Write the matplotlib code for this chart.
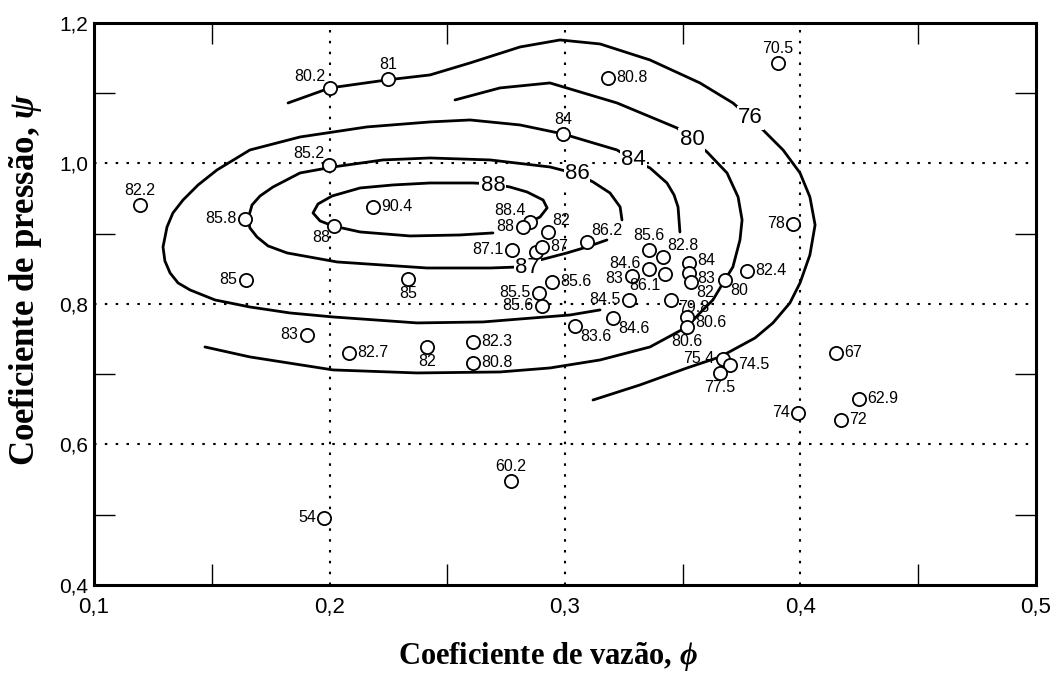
import matplotlib
matplotlib.use('Agg')
import matplotlib.pyplot as plt
from matplotlib.ticker import FuncFormatter, FixedLocator

# measured points: flow coefficient, pressure coefficient, efficiency label
phi = [0.2002, 0.2248, 0.3183, 0.3904, 0.2992, 0.1998, 0.1195, 0.1641,
       0.2019, 0.2185, 0.2851, 0.2822, 0.2928, 0.3093, 0.2775, 0.2877,
       0.2902, 0.3357, 0.3416, 0.3357, 0.3425, 0.3284, 0.3527, 0.3527,
       0.3535, 0.3679, 0.3773, 0.3968, 0.3272, 0.3450, 0.2890, 0.2902,
       0.2945, 0.3204, 0.3042, 0.3518, 0.3518, 0.3671, 0.3701, 0.3658,
       0.3989, 0.2333, 0.1645, 0.1904, 0.2083, 0.2414, 0.2609, 0.2609,
       0.1977, 0.2771, 0.4151, 0.4248, 0.4172]
psi = [1.1075, 1.1203, 1.1217, 1.1431, 1.0420, 0.9979, 0.9409, 0.9210,
       0.9110, 0.9381, 0.9167, 0.9096, 0.9025, 0.8883, 0.8769, 0.8740,
       0.8811, 0.8769, 0.8669, 0.8498, 0.8427, 0.8399, 0.8584, 0.8441,
       0.8313, 0.8342, 0.8470, 0.9139, 0.8057, 0.8057, 0.8157, 0.7972,
       0.8313, 0.7801, 0.7687, 0.7815, 0.7673, 0.7217, 0.7132, 0.7018,
       0.6448, 0.8356, 0.8342, 0.7559, 0.7302, 0.7388, 0.7459, 0.7160,
       0.4954, 0.5480, 0.7302, 0.6648, 0.6349]
eff = ['80.2', '81', '80.8', '70.5', '84', '85.2', '82.2', '85.8',
       '88', '90.4', '88.4', '88', '82', '86.2', '87.1', '',
       '87', '85.6', '82.8', '84.6', '86.1', '83', '84', '83',
       '82', '80', '82.4', '78', '84.5', '79.8', '85.5', '85.6',
       '85.6', '84.6', '83.6', '80.6', '80.6', '75.4', '74.5', '77.5',
       '74', '85', '85', '83', '82.7', '82', '82.3', '80.8',
       '54', '60.2', '67', '62.9', '72']
# where each label sits around its circle
where = ['ul', 'a', 'r', 'a', 'a', 'ul', 'a', 'l',
         'bl', 'r', 'ul', 'l', 'ur', 'ur', 'l', 'r',
         'r', 'a', 'ur', 'lu', 'bl', 'ld', 'ru', 'rd',
         'br', 'br', 'r', 'l', 'l', 'brh', 'l', 'l',
         'r', 'br', 'br', 'rd', 'b', 'l', 'r', 'b',
         'l', 'b', 'l', 'l', 'r', 'b', 'r', 'r',
         'l', 'a', 'r', 'r', 'r']

# efficiency contours (phi, psi) traced by hand
c88_phi = [0.2694, 0.2554, 0.2342, 0.2130, 0.2015, 0.1960, 0.1930, 0.1951, 0.2011, 0.2130,
           0.2270, 0.2427, 0.2609, 0.2694, 0.2766, 0.2839, 0.2907, 0.2924, 0.2894, 0.2851]
c88_psi = [0.9011, 0.8982, 0.8968, 0.9025, 0.9110, 0.9182, 0.9295, 0.9423, 0.9537, 0.9651,
           0.9694, 0.9722, 0.9722, 0.9708, 0.9665, 0.9594, 0.9480, 0.9367, 0.9238, 0.9167]
c86_phi = [0.3178, 0.3093, 0.3008, 0.2894, 0.2809, 0.2682, 0.2414, 0.2032, 0.1820, 0.1739,
           0.1692, 0.1662, 0.1654, 0.1671, 0.1705, 0.1760, 0.1875, 0.2015, 0.2227, 0.2427,
           0.2682, 0.2936, 0.3051, 0.3119, 0.3191, 0.3234, 0.3242]
c86_psi = [0.8911, 0.8811, 0.8726, 0.8626, 0.8527, 0.8512, 0.8512, 0.8598, 0.8726, 0.8826,
           0.8954, 0.9082, 0.9210, 0.9409, 0.9537, 0.9665, 0.9865, 0.9950, 1.0050, 1.0078,
           1.0050, 0.9950, 0.9851, 0.9737, 0.9580, 0.9381, 0.9196]
c84_phi = [0.3488, 0.3480, 0.3463, 0.3433, 0.3361, 0.3289, 0.3221, 0.3106, 0.2992, 0.2809,
           0.2597, 0.2427, 0.2159, 0.1875, 0.1662, 0.1522, 0.1442, 0.1378, 0.1335, 0.1310,
           0.1293, 0.1301, 0.1323, 0.1357, 0.1408, 0.1514, 0.1662, 0.1832, 0.2015, 0.2372,
           0.2652, 0.3021, 0.3149]
c84_psi = [0.9025, 0.9381, 0.9552, 0.9722, 0.9936, 1.0050, 1.0192, 1.0306, 1.0420, 1.0548,
           1.0619, 1.0591, 1.0520, 1.0377, 1.0192, 0.9907, 0.9694, 0.9480, 0.9295, 0.9096,
           0.8811, 0.8612, 0.8441, 0.8299, 0.8199, 0.8057, 0.7957, 0.7872, 0.7815, 0.7730,
           0.7744, 0.7843, 0.7915]
c80_phi = [0.2533, 0.2724, 0.2936, 0.3221, 0.3476, 0.3539, 0.3603, 0.3688, 0.3735, 0.3752,
           0.3743, 0.3713, 0.3679, 0.3628, 0.3573, 0.3518, 0.3361, 0.3149, 0.2936, 0.2724,
           0.2372, 0.2015, 0.1662, 0.1471]
c80_psi = [1.0904, 1.1075, 1.1146, 1.0861, 1.0505, 1.0335, 1.0164, 0.9865, 0.9523, 0.9196,
           0.8911, 0.8527, 0.8342, 0.8057, 0.7872, 0.7673, 0.7388, 0.7203, 0.7089, 0.7032,
           0.7018, 0.7061, 0.7246, 0.7388]
c76_phi = [0.1824, 0.2002, 0.2244, 0.2427, 0.2597, 0.2809, 0.2979, 0.3149, 0.3361, 0.3573,
           0.3713, 0.3786, 0.3841, 0.3926, 0.3998, 0.4040, 0.4062, 0.4040, 0.3998, 0.3955,
           0.3883, 0.3807, 0.3713, 0.3658, 0.3518, 0.3318, 0.3119]
c76_psi = [1.0861, 1.1075, 1.1189, 1.1260, 1.1431, 1.1658, 1.1758, 1.1701, 1.1473, 1.1146,
           1.0861, 1.0648, 1.0477, 1.0192, 0.9865, 0.9523, 0.9125, 0.8698, 0.8299, 0.8014,
           0.7730, 0.7516, 0.7345, 0.7246, 0.7089, 0.6847, 0.6633]

contour_text = ['88', '86', '87', '84', '80', '76']
contour_at_phi = [0.2694, 0.3051, 0.2839, 0.3289, 0.3539, 0.3786]
contour_at_psi = [0.9690, 0.9851, 0.8512, 1.0050, 1.0335, 1.0648]

x_ticks = [0.1, 0.2, 0.3, 0.4, 0.5]
y_ticks = [0.4, 0.6, 0.8, 1.0, 1.2]
x_minor = [0.15, 0.25, 0.35, 0.45]
y_minor = [0.5, 0.7, 0.9, 1.1]

plt.rcParams['mathtext.fontset'] = 'custom'
plt.rcParams['mathtext.it'] = 'Liberation Serif:italic:bold'
plt.rcParams['mathtext.rm'] = 'Liberation Serif:bold'

fig = plt.figure(figsize=(10.54, 6.73), dpi=100)
ax = fig.add_axes([0.0892, 0.1308, 0.8937, 0.8351])
ax.set_xlim(0.1, 0.5)
ax.set_ylim(0.4, 1.2)

# dotted grid at the major values
for v in x_ticks[1:-1]:
    ax.axvline(v, color='black', lw=1.5, linestyle=(0, (1.2, 4)), zorder=1)
for v in y_ticks[1:-1]:
    ax.axhline(v, color='black', lw=1.5, linestyle=(0, (1.2, 4)), zorder=1)

for cx, cy in [(c88_phi, c88_psi), (c86_phi, c86_psi), (c84_phi, c84_psi),
               (c80_phi, c80_psi), (c76_phi, c76_psi)]:
    ax.plot(cx, cy, color='black', lw=2.0, solid_capstyle='round',
            solid_joinstyle='round', zorder=2)

for t, x, y in zip(contour_text, contour_at_phi, contour_at_psi):
    ax.text(x, y, t, fontsize=16, family='Liberation Sans', ha='center', va='center',
            zorder=3, bbox=dict(facecolor='white', edgecolor='none', pad=0.8))

ax.plot(phi, psi, 'o', ms=9.5, mfc='white', mec='black', mew=1.3, zorder=4)

offs = {'r': (6, 0, 'left', 'center'), 'l': (-6, 0, 'right', 'center'),
        'ru': (6, 2, 'left', 'center'), 'rd': (6, -4, 'left', 'center'),
        'lu': (-6, 4, 'right', 'center'), 'ld': (-6, -1.5, 'right', 'center'),
        'a': (0, 5, 'center', 'bottom'), 'b': (0, -5, 'center', 'top'),
        'ul': (-3, 3, 'right', 'bottom'), 'ur': (3, 3, 'left', 'bottom'),
        'bl': (-3, -3, 'right', 'top'), 'br': (4, -2, 'left', 'top'),
        'brh': (5, 0, 'left', 'top')}
for x, y, t, w in zip(phi, psi, eff, where):
    if not t:
        continue
    dx, dy, ha, va = offs[w]
    ax.annotate(t, (x, y), xytext=(dx, dy), textcoords='offset points',
                ha=ha, va=va, fontsize=11.5, family='Liberation Sans', zorder=5)

ax.xaxis.set_major_locator(FixedLocator(x_ticks))
ax.yaxis.set_major_locator(FixedLocator(y_ticks))
ax.xaxis.set_minor_locator(FixedLocator(x_minor))
ax.yaxis.set_minor_locator(FixedLocator(y_minor))
comma = FuncFormatter(lambda v, p: ('%.1f' % v).replace('.', ','))
ax.xaxis.set_major_formatter(comma)
ax.yaxis.set_major_formatter(comma)
ax.tick_params(which='major', length=0)
ax.tick_params(axis='x', which='major', labelsize=16, pad=9)
ax.tick_params(axis='y', which='major', labelsize=15, pad=4)
ax.tick_params(which='minor', direction='in', length=15, width=1.0,
               top=True, right=True)
for lab in ax.get_xticklabels() + ax.get_yticklabels():
    lab.set_family('Liberation Sans')
for s in ax.spines.values():
    s.set_linewidth(2.2)

fig.text(0.52, 0.024, 'Coeficiente de vazão, $\\phi$', ha='center', va='center',
         fontsize=22, family='Liberation Serif', weight='bold')
fig.text(0.024, 0.584, 'Coeficiente de pressão, $\\psi$', ha='center', va='center',
         rotation=90, fontsize=25, family='Liberation Serif', weight='bold')

fig.savefig('out.png', dpi=100)
